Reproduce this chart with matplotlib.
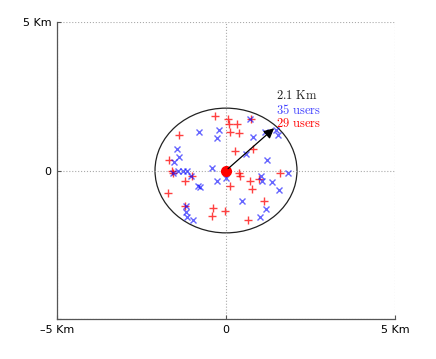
import matplotlib
matplotlib.use("Agg")
import matplotlib.pyplot as plt
from matplotlib.patches import Circle
import numpy as np

# users positions in km
red_x = [-0.33, 0.06, 0.09, 0.33, 0.12, 0.38, 0.74, -1.39, 0.27, 0.80,
         -1.69, -1.60, -1.01, -1.21, -1.72, -0.38, -0.41, -0.03, 0.38, 0.41,
         0.12, 0.71, 0.77, 0.98, 1.60, 1.12, 0.65, -1.21, -1.57]
red_y = [1.85, 1.72, 1.55, 1.55, 1.31, 1.25, 1.72, 1.21, 0.64, 0.74,
         0.34, 0.00, -0.20, -0.37, -0.77, -1.25, -1.52, -1.38, -0.07, -0.17,
         -0.51, -0.37, -0.61, -0.27, -0.07, -1.01, -1.65, -1.18, -0.10]

blue_x = [-0.80, -0.21, -0.27, 0.71, 0.80, 1.15, 1.54, 1.48, 1.21, 0.59,
          -1.45, -1.39, -1.54, -1.42, -1.15, -0.41, -1.57, -1.04, -0.27, 0.00,
          -0.83, -0.77, -1.18, -1.18, -1.15, -0.98, 1.04, 1.07, 1.36, 1.57,
          1.83, 0.47, 1.18, 1.01, -1.27]
blue_y = [1.31, 1.38, 1.08, 1.72, 1.14, 1.28, 1.18, 1.35, 0.37, 0.54,
          0.74, 0.44, 0.30, 0.00, 0.00, 0.07, -0.10, -0.17, -0.37, -0.24,
          -0.51, -0.57, -1.18, -1.41, -1.55, -1.68, -0.17, -0.34, -0.40, -0.64,
          -0.10, -1.04, -1.28, -1.55, -0.03]

radius = 2.1
ticks = [-5, 0, 5]
xtick_labels = ['\u20135 Km', '0', '5 Km']
ytick_labels = ['', '0', '5 Km']

plt.rcParams['mathtext.fontset'] = 'cm'

fig = plt.figure(figsize=(4.36, 3.59), dpi=100)
ax = fig.add_axes([0.1307, 0.1114, 0.7753, 0.8273])

ax.plot(red_x, red_y, '+', color='red', alpha=0.75, markersize=6, mew=1)
ax.plot(blue_x, blue_y, 'x', color='blue', alpha=0.6, markersize=5, mew=1)

ax.add_patch(Circle((0, 0), radius, fill=False, edgecolor='#222222', lw=0.9))
ax.plot([0], [0], 'o', color='red', markersize=7)

ang = np.pi / 4
ax.annotate('', xy=(radius * np.cos(ang), radius * np.sin(ang)), xytext=(0, 0),
            arrowprops=dict(arrowstyle='-|>', color='black', lw=0.9,
                            mutation_scale=15))

tx = 1.48
ax.text(tx, 2.53, r'$\mathrm{2.1\ Km}$', color='#222222', fontsize=9, va='center')
ax.text(tx, 2.05, r'$\mathrm{%d\ users}$' % len(blue_x), color='blue', alpha=0.75,
        fontsize=9, va='center')
ax.text(tx, 1.58, r'$\mathrm{%d\ users}$' % len(red_x), color='red',
        fontsize=9, va='center')

ax.set_xlim(-5, 5)
ax.set_ylim(-5, 5)
ax.set_xticks(ticks)
ax.set_xticklabels(xtick_labels)
ax.set_yticks(ticks)
ax.set_yticklabels(ytick_labels)
ax.tick_params(direction='in', length=3, labelsize=8, color='#555555', pad=4)
ax.grid(True, linestyle=':', color='#aaaaaa', lw=0.8)
for s in ['top', 'right']:
    ax.spines[s].set_visible(False)
for s in ['left', 'bottom']:
    ax.spines[s].set_color('#555555')
    ax.spines[s].set_linewidth(0.9)

fig.savefig('out.png', dpi=100)
